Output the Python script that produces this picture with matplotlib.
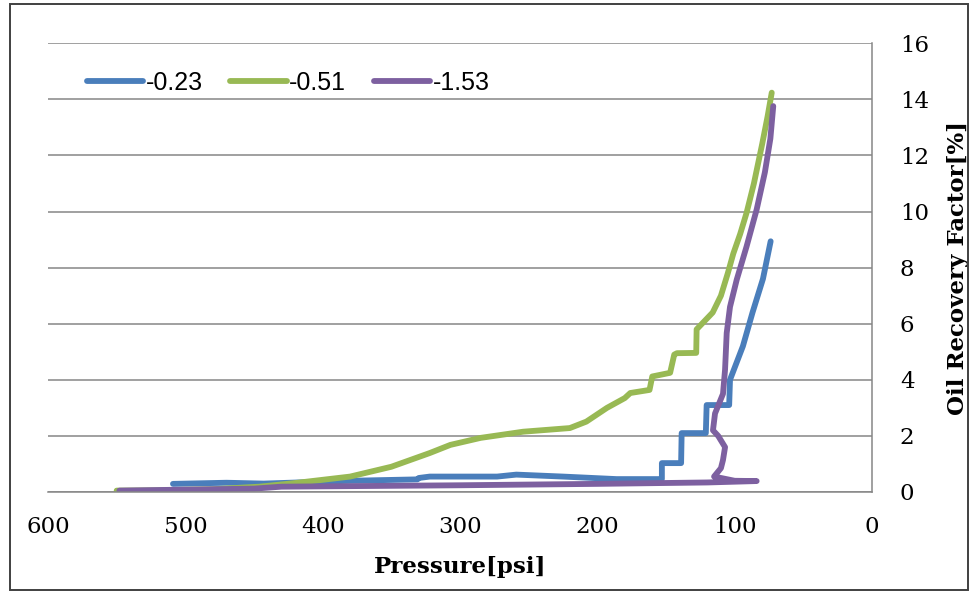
import matplotlib.pyplot as plt
from matplotlib.patches import Rectangle

# pressure [psi] and oil recovery factor [%]
p_023 = [509, 470, 443, 380, 331, 330, 322, 273, 259, 225, 186, 154, 153, 153,
         139, 138.6, 121, 120.4, 104, 103.4, 94, 87, 79.4, 73.8]
rf_023 = [0.29, 0.33, 0.30, 0.40, 0.45, 0.50, 0.55, 0.55, 0.62, 0.55, 0.46, 0.46, 0.46, 1.03,
          1.03, 2.1, 2.1, 3.1, 3.1, 4.0, 5.2, 6.4, 7.6, 8.94]

p_051 = [550, 520, 480, 446, 420, 380, 350, 322, 307, 285, 254, 220, 208, 193, 180, 176,
         162, 160, 147, 144, 142, 128, 127.7, 116, 110, 105, 101, 96, 91.3, 86, 80, 76, 73]
rf_051 = [0.05, 0.06, 0.10, 0.19, 0.32, 0.55, 0.90, 1.39, 1.68, 1.93, 2.15, 2.28, 2.51, 3.0, 3.35, 3.53,
          3.64, 4.12, 4.25, 4.9, 4.95, 4.96, 5.8, 6.4, 7.0, 7.8, 8.5, 9.2, 9.96, 11.0, 12.4, 13.4, 14.24]

p_153 = [548, 450, 430, 300, 200, 120, 84, 100, 115, 110, 108.5, 107, 112, 115.8, 114.3,
         108.5, 107, 105.8, 103.4, 98.5, 91.3, 84, 78, 74, 71.9]
rf_153 = [0.05, 0.12, 0.19, 0.24, 0.29, 0.34, 0.39, 0.40, 0.55, 0.85, 1.14, 1.6, 2.0, 2.2, 2.8,
          3.5, 4.36, 5.67, 6.6, 7.57, 8.76, 10.07, 11.4, 12.6, 13.76]

labels = ['-0.23', '-0.51', '-1.53']
colors = ['#4a7ebb', '#98b954', '#7d60a0']

W, H = 977, 592
fig = plt.figure(figsize=(W / 100, H / 100), dpi=100)
ax = fig.add_axes([48 / W, 1 - 492 / H, (872 - 48) / W, (492 - 43.3) / H])

for p, rf, lab, c in zip([p_023, p_051, p_153], [rf_023, rf_051, rf_153], labels, colors):
    ax.plot(p, rf, color=c, lw=4.2, label=lab, solid_capstyle='round', solid_joinstyle='round')

ax.set_xlim(600, 0)
ax.set_ylim(0, 16)
ax.set_xticks(range(600, -1, -100))
ax.set_yticks(range(0, 17, 2))
ax.yaxis.tick_right()
ax.yaxis.set_label_position('right')
ax.grid(axis='y', color='#868686', lw=1.1)
ax.set_axisbelow(True)
ax.tick_params(length=0, labelsize=16.5)
ax.tick_params(axis='x', pad=17)
ax.tick_params(axis='y', pad=20)
for lbl in ax.get_xticklabels() + ax.get_yticklabels():
    lbl.set_family('DejaVu Serif')
for s in ['left', 'top']:
    ax.spines[s].set_visible(False)
for s in ['right', 'bottom']:
    ax.spines[s].set_color('#868686')
    ax.spines[s].set_linewidth(1.1)

ax.set_xlabel('Pressure[psi]', family='DejaVu Serif', fontweight='bold', fontsize=16.5, labelpad=13)
ax.set_ylabel('Oil Recovery Factor[%]', family='DejaVu Serif', fontweight='bold', fontsize=16.5,
              labelpad=13)

leg = ax.legend(loc='center left', bbox_to_anchor=(87 / W, 1 - 83 / H), bbox_transform=fig.transFigure,
                ncol=3, frameon=False, fontsize=18, handlelength=2.25, handletextpad=0.1,
                columnspacing=1.1, borderpad=0, borderaxespad=0)
for t in leg.get_texts():
    t.set_family('Liberation Sans')

fig.patches.append(Rectangle((10 / W, 2 / H), 958 / W, 586 / H, transform=fig.transFigure,
                             fill=False, edgecolor='#404040', lw=1.4))

fig.savefig('out.png', dpi=100)
